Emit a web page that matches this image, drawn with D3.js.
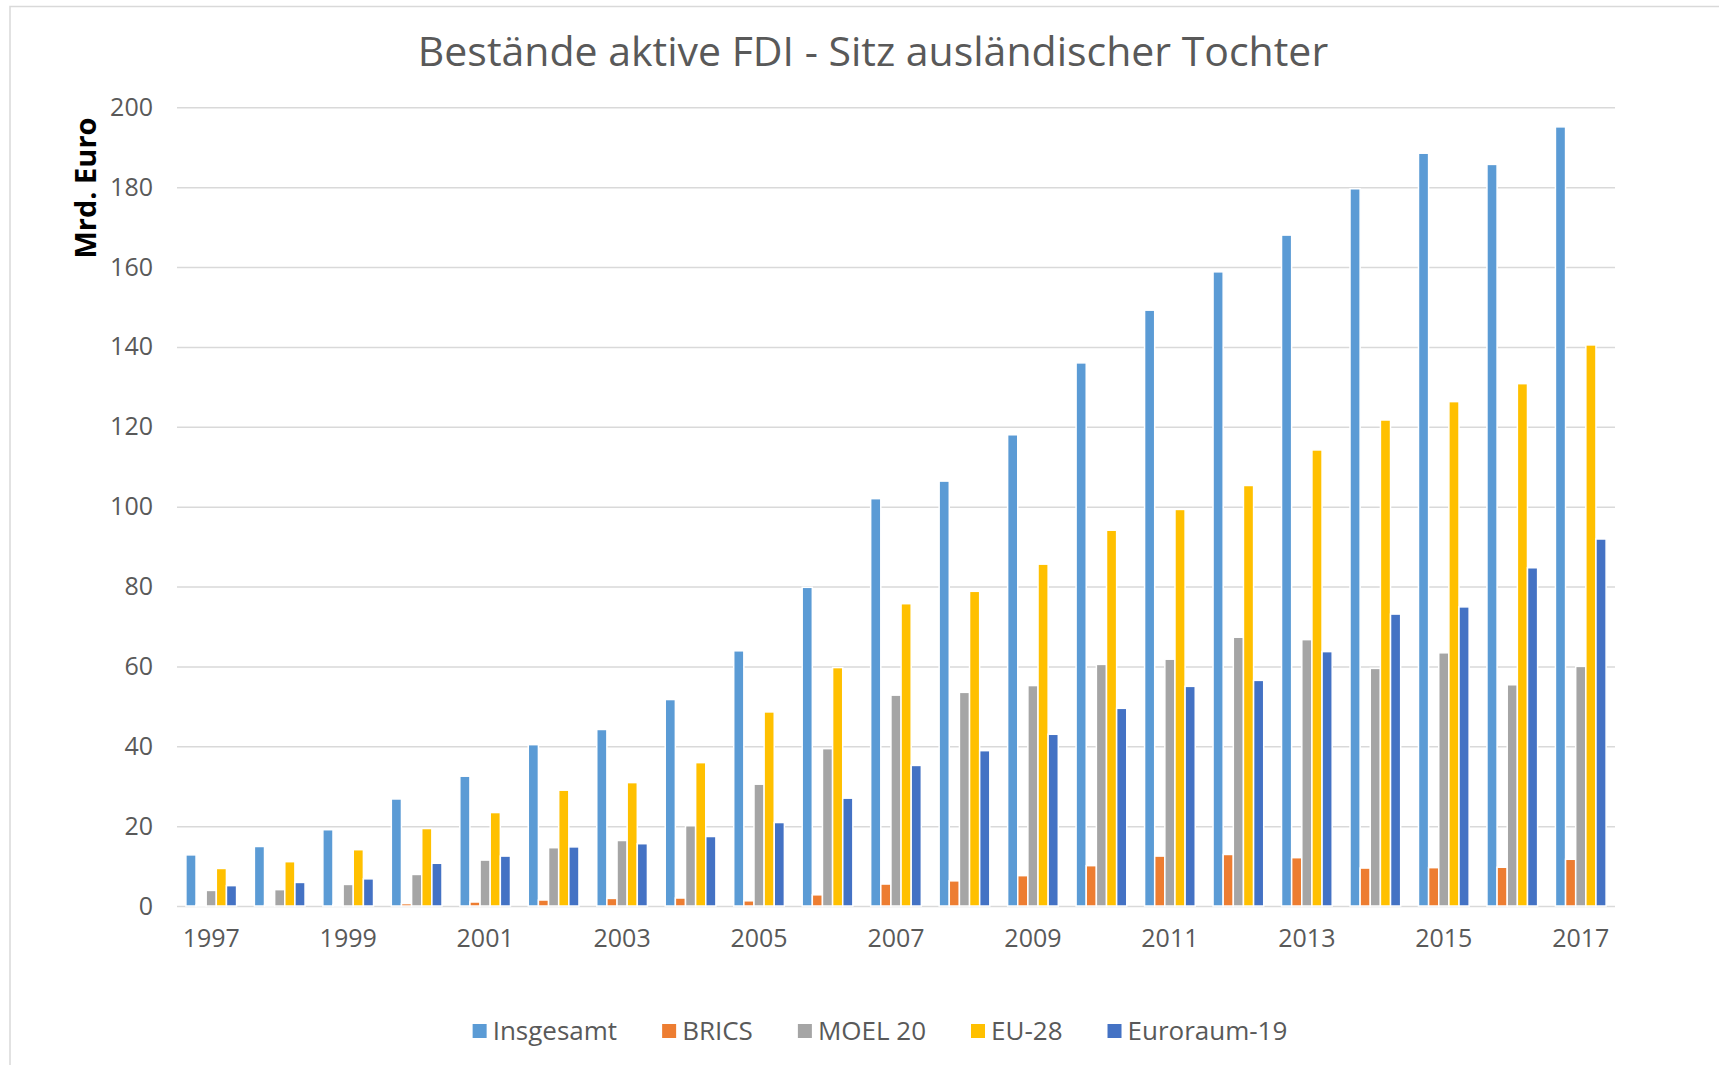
<!DOCTYPE html>
<html>
<head>
<meta charset="utf-8">
<script src="https://cdn.jsdelivr.net/npm/d3@7"></script>
<style>
  html, body { margin: 0; padding: 0; background: #ffffff; }
  svg { display: block; }
</style>
</head>
<body>
<svg id="chart" width="1719" height="1065"></svg>
<script>
// ---------- data ----------
const years = ["1997","1998","1999","2000","2001","2002","2003","2004","2005","2006","2007",
               "2008","2009","2010","2011","2012","2013","2014","2015","2016","2017"];
const seriesNames = ["Insgesamt", "BRICS", "MOEL 20", "EU-28", "Euroraum-19"];
const insgesamt = [12.8, 14.9, 19.1, 26.8, 32.5, 40.4, 44.2, 51.7, 63.9, 79.8, 102.0,
                   106.4, 118.0, 136.0, 149.2, 158.8, 168.0, 179.6, 188.5, 185.7, 195.1];
const brics     = [0.25, 0.2, 0.35, 0.6, 1.0, 1.5, 1.9, 2.0, 1.3, 2.8, 5.5,
                   6.3, 7.6, 10.1, 12.5, 12.9, 12.1, 9.5, 9.6, 9.7, 11.7];
const moel20    = [3.9, 4.1, 5.4, 7.9, 11.5, 14.6, 16.4, 20.1, 30.5, 39.4, 52.8,
                   53.5, 55.2, 60.5, 61.8, 67.3, 66.7, 59.5, 63.4, 55.4, 60.0];
const eu28      = [9.4, 11.1, 14.1, 19.4, 23.4, 29.0, 30.9, 35.9, 48.6, 59.7, 75.7,
                   78.8, 85.6, 94.1, 99.3, 105.3, 114.2, 121.7, 126.3, 130.8, 140.5];
const euroraum  = [5.1, 5.9, 6.8, 10.7, 12.5, 14.8, 15.6, 17.4, 20.9, 27.0, 35.2,
                   38.9, 43.0, 49.5, 55.0, 56.5, 63.7, 73.1, 74.9, 84.7, 91.9];
const yTicks = [0, 20, 40, 60, 80, 100, 120, 140, 160, 180, 200];
const xTickLabels = ["1997","1999","2001","2003","2005","2007","2009","2011","2013","2015","2017"];
const colors = ["#5B9BD5", "#ED7D31", "#A5A5A5", "#FFC000", "#4472C4"];
const titleText = "Bestände aktive FDI - Sitz ausländischer Tochter";
const yTitleText = "Mrd. Euro";

const seriesValues = [insgesamt, brics, moel20, eu28, euroraum];

// ---------- layout ----------
const W = 1719, H = 1065;
const plot = { left: 177, right: 1615, top: 107.3, bottom: 906 };
const FONT = "'Open Sans', 'Noto Sans', sans-serif";
const TXT = "#595959";

const svg = d3.select("#chart");

// outer frame (top + left visible)
svg.append("path")
  .attr("d", `M10,${H} L10,6.5 L${W},6.5`)
  .attr("fill", "none")
  .attr("stroke", "#d9d9d9")
  .attr("stroke-width", 1.5);

// scales
const x0 = d3.scaleBand().domain(years).range([plot.left, plot.right])
  .paddingInner(0.26).paddingOuter(0.13);
const x1 = d3.scaleBand().domain(seriesNames).range([0, x0.bandwidth()]).padding(0);
const y = d3.scaleLinear().domain([0, 200]).range([plot.bottom, plot.top]);

// gridlines
const grid = svg.append("g")
  .attr("transform", `translate(${plot.left},0)`)
  .call(d3.axisLeft(y).tickValues(yTicks).tickSize(-(plot.right - plot.left)).tickFormat(""));
grid.select(".domain").remove();
grid.selectAll(".tick line").attr("stroke", "#d9d9d9").attr("stroke-width", 1.5);

// y tick labels
const yAx = svg.append("g")
  .attr("transform", `translate(${plot.left},0)`)
  .call(d3.axisLeft(y).tickValues(yTicks).tickSize(0).tickPadding(24));
yAx.select(".domain").remove();
yAx.selectAll("text").attr("font-family", FONT).attr("font-size", 25).attr("fill", TXT);

// bars
const groups = svg.append("g").selectAll("g")
  .data(years)
  .join("g")
  .attr("transform", d => `translate(${x0(d)},0)`);

groups.selectAll("rect")
  .data((d, i) => seriesNames.map((s, k) => ({ s, k, v: seriesValues[k][i] })))
  .join("rect")
  .attr("x", d => x1(d.s))
  .attr("width", x1.bandwidth())
  .attr("y", d => y(d.v))
  .attr("height", d => y(0) - y(d.v))
  .attr("fill", d => colors[d.k])
  .attr("stroke", "#ffffff")
  .attr("stroke-width", 1.5);

// x axis labels
const xAx = svg.append("g")
  .attr("transform", `translate(0,${plot.bottom})`)
  .call(d3.axisBottom(x0).tickValues(xTickLabels).tickSize(0).tickPadding(23));
xAx.select(".domain").remove();
xAx.selectAll("text").attr("font-family", FONT).attr("font-size", 25).attr("fill", TXT);

// title
svg.append("text")
  .attr("x", 873).attr("y", 66)
  .attr("text-anchor", "middle")
  .attr("font-family", FONT).attr("font-size", 41)
  .attr("fill", TXT)
  .text(titleText);

// y title
svg.append("text")
  .attr("transform", "translate(96,188) rotate(-90)")
  .attr("text-anchor", "middle")
  .attr("font-family", FONT).attr("font-size", 29).attr("font-weight", "bold")
  .attr("fill", "#000000")
  .text(yTitleText);

// legend
const legend = svg.append("g");
const items = legend.selectAll("g").data(seriesNames).join("g");
items.append("rect").attr("width", 14).attr("height", 14).attr("y", -7)
  .attr("fill", (d, i) => colors[i]);
items.append("text").attr("x", 20).attr("y", 9)
  .attr("font-family", FONT).attr("font-size", 26).attr("fill", TXT)
  .text(d => d);
let cx = 0;
const gap = 45;
items.each(function () {
  const g = d3.select(this);
  g.attr("transform", `translate(${cx},0)`);
  const w = 20 + g.select("text").node().getComputedTextLength();
  cx += w + gap;
});
const total = cx - gap;
legend.attr("transform", `translate(${880 - total / 2},1031)`);
</script>
</body>
</html>
